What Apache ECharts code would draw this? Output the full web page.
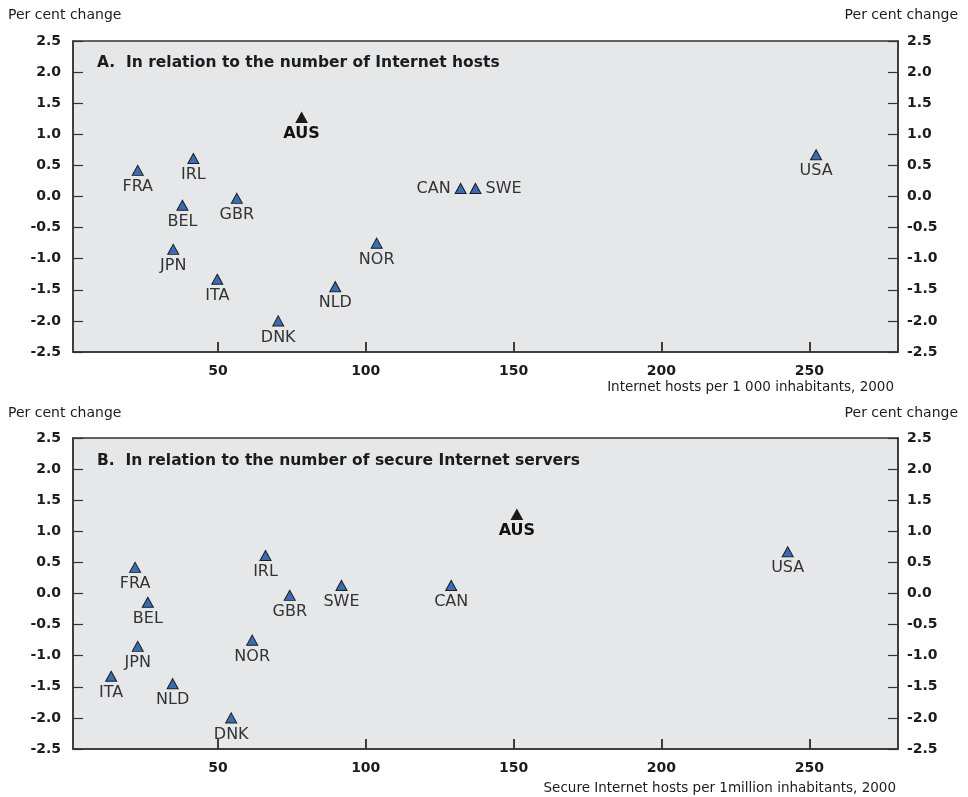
<!DOCTYPE html>
<html>
<head>
<meta charset="utf-8">
<script src="https://cdn.jsdelivr.net/npm/echarts@6/dist/echarts.min.js"></script>
<style>
  html, body { margin: 0; padding: 0; background: #ffffff; }
  #chart { width: 968px; height: 797px; }
</style>
</head>
<body>
<div id="chart"></div>
<script>
// Countries and their per cent change (same for both panels)
const countries = ['AUS', 'BEL', 'CAN', 'DNK', 'FRA', 'GBR', 'IRL', 'ITA', 'JPN', 'NLD', 'NOR', 'SWE', 'USA'];
const perCentChange = [1.27, -0.14, 0.13, -2.0, 0.42, -0.03, 0.61, -1.33, -0.85, -1.45, -0.75, 0.13, 0.67];
// Panel A: Internet hosts per 1 000 inhabitants, 2000
const internetHosts = [78.3, 38.0, 132.1, 70.4, 22.9, 56.4, 41.7, 49.8, 34.9, 89.7, 103.7, 137.1, 252.3];
// Panel B: Secure Internet hosts per 1 million inhabitants, 2000
const secureHosts = [151.1, 26.3, 128.9, 54.5, 22.0, 74.3, 66.1, 13.9, 22.9, 34.7, 61.6, 91.8, 242.7];
// Axis ticks
const xTicks = [50, 100, 150, 200, 250];
const yMin = -2.5;
const yMax = 2.5;
const yTickStep = 0.5;

const FONT = 'DejaVu Sans';
const AXIS_COLOR = '#333333';
const TEXT_COLOR = '#1c1c1c';
const highlight = 'AUS';
// label placement overrides per panel (default is below the marker)
const labelSide = [{ CAN: 'left', SWE: 'right' }, {}];
// inward tick length on the horizontal axis, in y-axis units (~10px)
const xTickLen = 0.16;

function buildPoints(xs, panel) {
  return countries.map((c, i) => {
    const isHi = c === highlight;
    const pos = labelSide[panel][c] || 'bottom';
    return {
      name: c,
      value: [xs[i], perCentChange[i]],
      itemStyle: isHi ? { color: '#1a1a1a', borderColor: '#1a1a1a' } : undefined,
      label: {
        position: pos,
        distance: pos === 'bottom' ? 3 : 4,
        fontWeight: isHi ? 'bold' : 'normal',
        color: isHi ? '#111111' : '#333333'
      }
    };
  });
}

const grids = [
  { left: 73, top: 41, width: 825, height: 311 },
  { left: 73, top: 438, width: 825, height: 311 }
];

const xAxes = [];
const yAxes = [];
grids.forEach((g, i) => {
  xAxes.push({
    type: 'value', gridIndex: i, position: 'bottom', min: 1, max: 280, z: 5,
    axisLine: { show: true, onZero: false, lineStyle: { color: AXIS_COLOR, width: 1.5 } },
    axisTick: { show: true, inside: true, length: 10, customValues: xTicks, lineStyle: { color: AXIS_COLOR, width: 1.5 } },
    axisLabel: { customValues: xTicks, margin: 12, fontFamily: FONT, fontWeight: 'bold', fontSize: 14, color: TEXT_COLOR },
    splitLine: { show: false }
  });
  ['left', 'right'].forEach(side => {
    yAxes.push({
      type: 'value', gridIndex: i, position: side, min: yMin, max: yMax, interval: yTickStep,
      axisLine: { show: true, onZero: false, lineStyle: { color: AXIS_COLOR, width: 1.5 } },
      axisTick: { show: true, inside: true, length: 10, lineStyle: { color: AXIS_COLOR, width: 1.2 } },
      axisLabel: {
        margin: side === 'left' ? 12 : 9,
        fontFamily: FONT, fontWeight: 'bold', fontSize: 14, color: TEXT_COLOR,
        formatter: v => v.toFixed(1)
      },
      splitLine: { show: false }
    });
  });
});

function scatter(xs, panel) {
  return {
    type: 'scatter',
    xAxisIndex: panel, yAxisIndex: panel * 2,
    symbol: 'triangle',
    symbolSize: [11, 10],
    z: 6,
    clip: false,
    itemStyle: { color: '#3a6cb4', borderColor: '#1e1e1e', borderWidth: 1, opacity: 1 },
    label: {
      show: true, formatter: '{b}',
      fontFamily: FONT, fontSize: 16, color: '#333333'
    },
    emphasis: { disabled: true },
    // short inward tick marks standing on the horizontal axis
    markLine: {
      silent: true,
      symbol: ['none', 'none'],
      label: { show: false },
      lineStyle: { color: AXIS_COLOR, width: 1.5, type: 'solid', opacity: 1 },
      data: xTicks.map(v => [{ coord: [v, yMin] }, { coord: [v, yMin + xTickLen] }])
    },
    data: buildPoints(xs, panel)
  };
}

function text(str, opts, style) {
  return Object.assign({
    text: str, padding: 0,
    textStyle: Object.assign({ fontFamily: FONT, fontSize: 14, fontWeight: 'normal', color: TEXT_COLOR, lineHeight: 18 }, style || {})
  }, opts);
}

const panelTitleStyle = { fontSize: 15.5, fontWeight: 'bold', lineHeight: 20 };
const axisNameStyle = { fontSize: 13.5, fontWeight: 'normal', lineHeight: 18 };

const option = {
  animation: false,
  backgroundColor: '#ffffff',
  title: [
    text('Per cent change', { left: 8, top: 6 }),
    text('Per cent change', { right: 10, top: 6 }),
    text('Per cent change', { left: 8, top: 404 }),
    text('Per cent change', { right: 10, top: 404 }),
    text('A.  In relation to the number of Internet hosts', { left: 97, top: 53 }, panelTitleStyle),
    text('B.  In relation to the number of secure Internet servers', { left: 97, top: 451 }, panelTitleStyle),
    text('Internet hosts per 1 000 inhabitants, 2000', { right: 74, top: 378 }, axisNameStyle),
    text('Secure Internet hosts per 1million inhabitants, 2000', { right: 72, top: 779 }, axisNameStyle)
  ],
  grid: grids.map(g => Object.assign({
    show: true, z: 0, backgroundColor: '#e6e7e9', borderColor: AXIS_COLOR, borderWidth: 1.5
  }, g)),
  xAxis: xAxes,
  yAxis: yAxes,
  series: [scatter(internetHosts, 0), scatter(secureHosts, 1)]
};

const chart = echarts.init(document.getElementById('chart'), null, { renderer: 'canvas' });
chart.setOption(option);
</script>
</body>
</html>
